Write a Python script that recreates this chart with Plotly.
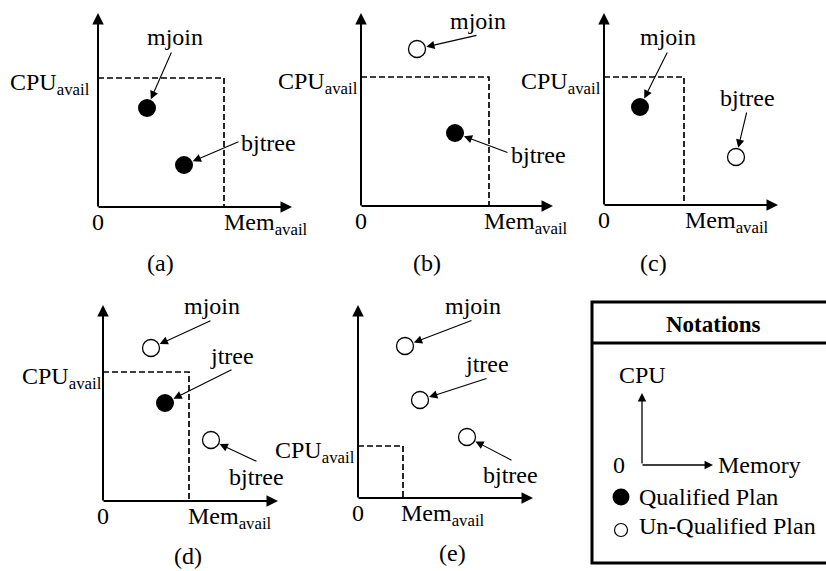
import plotly.graph_objects as go

# ---------------- data (panel-local units: memory -> right, cpu -> up) ----------------
PANEL_NAMES = ["(a)", "(b)", "(c)", "(d)", "(e)"]
CPU_AVAIL = [129, 129, 128, 129, 52]
MEM_AVAIL = [126, 128, 80, 86, 45]
PLAN_NAMES = [
    ["mjoin", "bjtree"],
    ["mjoin", "bjtree"],
    ["mjoin", "bjtree"],
    ["mjoin", "jtree", "bjtree"],
    ["mjoin", "jtree", "bjtree"],
]
PLAN_MEM = [[49, 86], [56, 94], [36, 132], [48, 62, 108], [47, 62, 109]]
PLAN_CPU = [[99, 42], [157, 73], [98, 48], [153, 98, 61], [152, 98, 61]]

LEGEND_TITLE = "Notations"
LEGEND_ITEMS = ["Qualified Plan", "Un-Qualified Plan"]
LEGEND_AXES = ["CPU", "Memory", "0"]

# ---------------- layout (pixel placement of each panel) ----------------
W, H = 826, 571
ORIGIN = [(98, 207), (361, 206), (604, 205), (103, 501), (358, 498)]
X_LEN = [194, 192, 174, 175, 175]
Y_LEN = [194, 193, 192, 196, 193]
CPU_LABEL_X = [92, 360, 603, 104, 357]
MEM_LABEL_DX = [-2, -7, -1, -3, -4]
CAPTION_POS = [(160, 263), (427, 263), (653, 263), (188, 556), (452, 553)]
# text centres and arrow tails (absolute pixels) for each plan label
LABEL_POS = [
    [(175, 37), (268, 143)],
    [(478, 21), (538, 155)],
    [(668, 37), (747, 98)],
    [(212, 306), (232, 356), (256, 477)],
    [(473, 306), (487, 364), (510, 475)],
]
ARROW_TAIL = [
    [(172, 51), (240, 141)],
    [(478, 35), (509, 153)],
    [(668, 51), (747, 111)],
    [(212, 320), (233, 369), (258, 462)],
    [(473, 320), (488, 378), (513, 461)],
]

FONT = "Liberation Serif, Times New Roman, serif"
FS = 24
R = 9  # marker radius in px

fig = go.Figure()
ann = []


def text(x, y, s, xanchor="center", yanchor="middle", size=FS, bold=False):
    if bold:
        s = "<b>" + s + "</b>"
    ann.append(dict(x=x, y=y, xref="x", yref="y", text=s, showarrow=False,
                    xanchor=xanchor, yanchor=yanchor,
                    font=dict(family=FONT, size=size, color="black")))


def arrow(x0, y0, x1, y1, width=1.0, size=1.5):
    ann.append(dict(x=x1, y=y1, ax=x0, ay=y0, xref="x", yref="y", axref="x", ayref="y",
                    text="", showarrow=True, arrowhead=2, arrowwidth=width,
                    arrowsize=size, arrowcolor="black", standoff=0, startstandoff=0))


for i, name in enumerate(PANEL_NAMES):
    ox, oy = ORIGIN[i]
    # axes
    arrow(ox, oy + 1, ox, oy - Y_LEN[i], width=2, size=1.15)
    arrow(ox - 1, oy, ox + X_LEN[i], oy, width=2, size=1.15)
    # available-resource box
    ca, ma = CPU_AVAIL[i], MEM_AVAIL[i]
    fig.add_trace(go.Scatter(
        x=[ox, ox + ma, ox + ma], y=[oy - ca, oy - ca, oy],
        mode="lines", line=dict(color="black", width=1.7, dash="6px,3px"),
        hoverinfo="skip", showlegend=False))
    text(CPU_LABEL_X[i], oy - ca + 6, "CPU<sub>avail</sub>", xanchor="right")
    text(ox + ma + MEM_LABEL_DX[i], oy + 17, "Mem<sub>avail</sub>", xanchor="left")
    text(ox, oy + 15, "0")
    text(CAPTION_POS[i][0], CAPTION_POS[i][1], name)
    # plans
    for j, pname in enumerate(PLAN_NAMES[i]):
        m, c = PLAN_MEM[i][j], PLAN_CPU[i][j]
        qualified = (m <= ma) and (c <= ca)
        px, py = ox + m, oy - c
        fig.add_trace(go.Scatter(
            x=[px], y=[py], mode="markers",
            marker=dict(size=2 * R if qualified else 2 * R - 1,
                        color="black" if qualified else "white",
                        line=dict(color="black", width=0 if qualified else 1.3)),
            hoverinfo="skip", showlegend=False))
        tx, ty = ARROW_TAIL[i][j]
        dx, dy = tx - px, ty - py
        d = (dx * dx + dy * dy) ** 0.5
        hx, hy = px + dx / d * (R + 0.5), py + dy / d * (R + 0.5)
        arrow(tx, ty, hx, hy, width=1.1, size=1.5)
        lx, ly = LABEL_POS[i][j]
        text(lx, ly, pname)

# ---------------- notation box ----------------
BX0, BY0, BX1, BY1, BSEP = 592, 302, 840, 563, 343
shapes = [
    dict(type="rect", xref="x", yref="y", x0=BX0, y0=BY0, x1=BX1, y1=BY1,
         line=dict(color="black", width=3)),
    dict(type="line", xref="x", yref="y", x0=BX0, y0=BSEP, x1=BX1, y1=BSEP,
         line=dict(color="black", width=3)),
]
text(713, 324, LEGEND_TITLE, size=FS - 1, bold=True)
lox, loy = 642, 465
arrow(lox, loy, lox, 393, width=1.3, size=1.3)
arrow(lox - 1, loy, 713, loy, width=1.3, size=1.3)
text(lox, 375, LEGEND_AXES[0])
text(716, loy, LEGEND_AXES[1], xanchor="left")
text(619, loy, LEGEND_AXES[2])
fig.add_trace(go.Scatter(x=[621], y=[497], mode="markers",
                         marker=dict(size=17, color="black"), hoverinfo="skip", showlegend=False))
fig.add_trace(go.Scatter(x=[621], y=[530], mode="markers",
                         marker=dict(size=13, color="white", line=dict(color="black", width=1.2)),
                         hoverinfo="skip", showlegend=False))
text(637, 497, LEGEND_ITEMS[0], xanchor="left")
text(637, 526, LEGEND_ITEMS[1], xanchor="left")

fig.update_layout(
    width=W, height=H, margin=dict(l=0, r=0, t=0, b=0),
    paper_bgcolor="white", plot_bgcolor="white",
    xaxis=dict(range=[0, W], visible=False, fixedrange=True),
    yaxis=dict(range=[H, 0], visible=False, fixedrange=True),
    annotations=ann, shapes=shapes, showlegend=False,
)
fig.write_html("out.html", config={"displayModeBar": False},
               post_script="document.body.style.margin='0';")
